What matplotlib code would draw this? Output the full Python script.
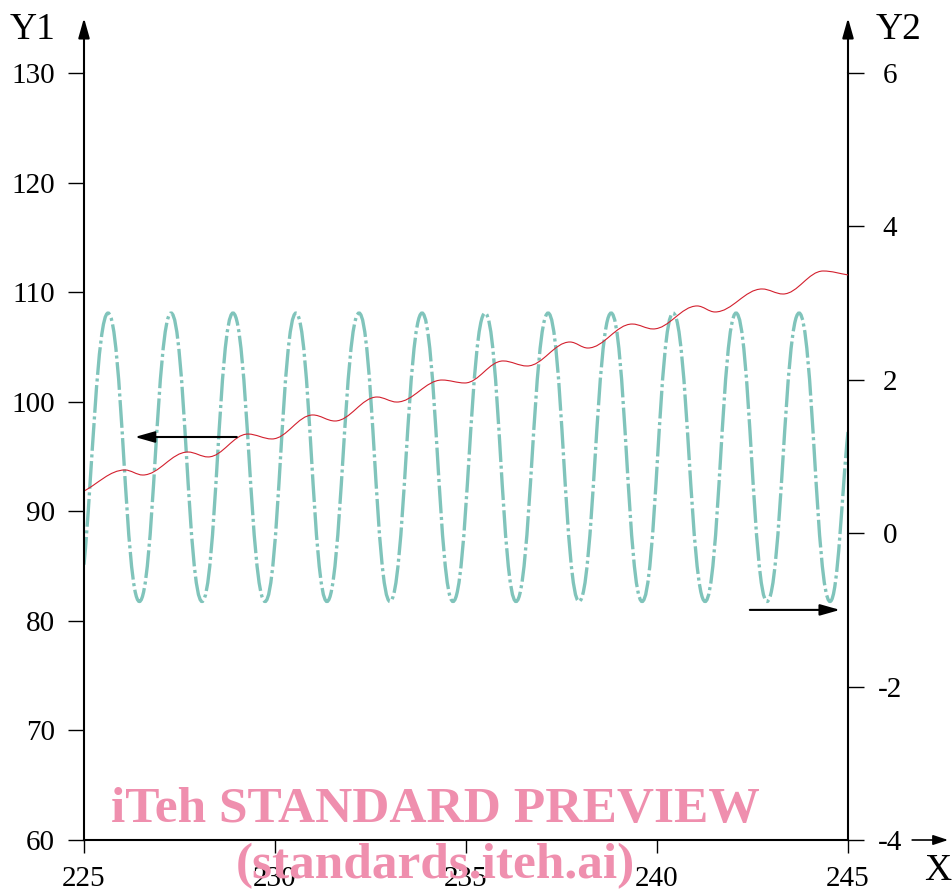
import matplotlib
matplotlib.use('Agg')
import matplotlib.pyplot as plt
from matplotlib.path import Path
from matplotlib.patches import PathPatch

plt.rcParams['font.family'] = ['Liberation Serif', 'DejaVu Serif']
plt.rcParams['lines.scale_dashes'] = False

# x ticks and the two y scales
x_ticks = [225, 230, 235, 240, 245]
y1_ticks = [60, 70, 80, 90, 100, 110, 120, 130]
y2_ticks = [-4, -2, 0, 2, 4, 6]
y2_labels = ['-4', '-2', '0', '2', '4', '6']

# teal dash-dot curve (right axis): start, peaks/troughs, end
teal_x = [225.0, 225.63, 226.45, 227.28, 228.09, 228.90, 229.74, 230.55, 231.36,
          232.20, 233.01, 233.85, 234.66, 235.50, 236.31, 237.15, 237.96, 238.80,
          239.61, 240.42, 241.26, 242.07, 242.88, 243.72, 244.53, 245.0]
teal_y = [-0.41, 2.87, -0.89, 2.87, -0.89, 2.87, -0.89, 2.87, -0.89,
          2.87, -0.89, 2.87, -0.89, 2.87, -0.89, 2.87, -0.89, 2.87,
          -0.89, 2.87, -0.89, 2.87, -0.89, 2.87, -0.89, 1.32]

# red thin curve (left axis): start, local max/min, end
red_x = [225.0, 226.07, 226.54, 227.72, 228.25, 229.29, 229.92, 230.99, 231.57,
         232.67, 233.19, 234.37, 234.97, 235.97, 236.60, 237.72, 238.19, 239.35,
         239.90, 241.05, 241.52, 242.75, 243.30, 244.35, 245.0]
red_y = [91.85, 93.77, 93.31, 95.41, 94.96, 97.05, 96.60, 98.79, 98.24,
         100.43, 99.97, 101.98, 101.71, 103.72, 103.26, 105.45, 104.90, 107.09,
         106.64, 108.74, 108.19, 110.29, 109.83, 111.93, 111.57]

# the two pointer arrows (which axis each curve belongs to)
left_arrow = ((229.0, 96.78), (226.33, 96.78))   # Y1 data
right_arrow = ((242.43, -1.0), (244.79, -1.0))   # Y2 data

TEAL = '#80c4bb'
RED = '#d3202e'
PINK = '#ef8fae'


def smooth_path(xs, ys, flat=0.3634):
    # cubic bezier through the points, flat tangents at inner points (extrema)
    verts = [(xs[0], ys[0])]
    codes = [Path.MOVETO]
    n = len(xs)
    for i in range(n - 1):
        x0, y0, x1, y1 = xs[i], ys[i], xs[i + 1], ys[i + 1]
        dx = x1 - x0
        if i == 0:
            c1 = (x0 + dx / 3, y0 + (y1 - y0) / 3)
        else:
            c1 = (x0 + flat * dx, y0)
        if i == n - 2:
            c2 = (x1 - dx / 3, y1 - (y1 - y0) / 3)
        else:
            c2 = (x1 - flat * dx, y1)
        verts += [c1, c2, (x1, y1)]
        codes += [Path.CURVE4] * 3
    return Path(verts, codes)


fig = plt.figure(figsize=(9.52, 8.9), dpi=100)
ax = fig.add_axes([84 / 952, 50 / 890, 764 / 952, 767 / 890])
ax2 = ax.twinx()
ax.set_zorder(ax2.get_zorder() + 1)
ax.patch.set_visible(False)

ax.set_xlim(225, 245)
ax.set_ylim(60, 130)
ax2.set_ylim(-4, 6)

teal = PathPatch(smooth_path(teal_x, teal_y, flat=0.44), transform=ax2.transData,
                 fill=False, edgecolor=TEAL, linewidth=2.4,
                 linestyle=(0, (20, 2.6, 2.2, 2.6)), capstyle='butt')
ax2.add_patch(teal)

red = PathPatch(smooth_path(red_x, red_y), transform=ax.transData, fill=False,
                edgecolor=RED, linewidth=0.8)
ax.add_patch(red)

arrow_style = '-|>,head_length=0.6,head_width=0.17'
ax.annotate('', xy=left_arrow[1], xytext=left_arrow[0],
            arrowprops=dict(arrowstyle=arrow_style, mutation_scale=20, color='black',
                            lw=1.5, shrinkA=0, shrinkB=0))
ax2.annotate('', xy=right_arrow[1], xytext=right_arrow[0],
             arrowprops=dict(arrowstyle=arrow_style, mutation_scale=20, color='black',
                             lw=1.5, shrinkA=0, shrinkB=0))

# axes: spines + arrowheads
for s in ['top', 'right']:
    ax.spines[s].set_visible(False)
for s in ['top', 'left', 'bottom']:
    ax2.spines[s].set_visible(False)
ax.spines['left'].set_linewidth(1.5)
ax.spines['bottom'].set_linewidth(1.5)
ax2.spines['right'].set_linewidth(1.5)

top_tip = (840 - 18) / 767
for xf in [0, 1]:
    ax.annotate('', xy=(xf, top_tip), xytext=(xf, 1), xycoords='axes fraction',
                annotation_clip=False,
                arrowprops=dict(arrowstyle=arrow_style, mutation_scale=20, color='black',
                                lw=1.5, shrinkA=0, shrinkB=0))
ax.annotate('', xy=(1.131, 0), xytext=(1.084, 0), xycoords='axes fraction',
            annotation_clip=False,
            arrowprops=dict(arrowstyle='-|>,head_length=0.6,head_width=0.2',
                            mutation_scale=15, color='black', lw=1.2,
                            shrinkA=0, shrinkB=0))

ax.set_xticks(x_ticks)
ax.set_yticks(y1_ticks)
ax2.set_yticks(y2_ticks, labels=y2_labels, ha='center')
ax.tick_params(axis='y', direction='out', length=11.5, width=1, pad=9.4, labelsize=21)
ax.tick_params(axis='x', direction='out', length=9.4, width=1, pad=9, labelsize=21)
ax2.tick_params(axis='y', direction='out', length=11.5, width=1, pad=18.7, labelsize=21)

fig.text(33 / 952, 1 - 30 / 890, 'Y1', fontsize=27, ha='center', va='center')
fig.text(899 / 952, 1 - 30 / 890, 'Y2', fontsize=27, ha='center', va='center')
fig.text(938 / 952, 1 - 871 / 890, 'X', fontsize=27, ha='center', va='center')

# watermark
fig.text(435 / 952, 68 / 890, 'iTeh STANDARD PREVIEW', fontsize=37, fontweight='bold',
         color=PINK, ha='center', va='baseline', zorder=10)
fig.text(435 / 952, 12 / 890, '(standards.iteh.ai)', fontsize=37, fontweight='bold',
         color=PINK, ha='center', va='baseline', zorder=10)

fig.savefig('out.png', dpi=100)
